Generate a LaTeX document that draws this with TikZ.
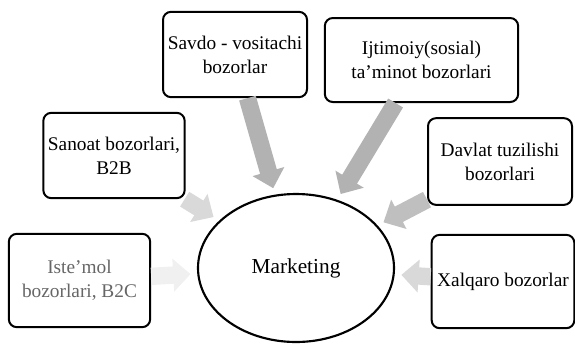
\documentclass[tikz,border=0pt]{standalone}
\usepackage{fontspec}
\setmainfont{Liberation Serif}
\usetikzlibrary{shapes.geometric,arrows.meta}

\tikzset{every picture/.style={line width=0.75pt}}
\tikzset{
  market/.style={draw, line width=1.5pt, rounded corners=6pt, align=center, inner sep=2pt,
    font=\fontsize{14.5}{18}\selectfont},
  centre/.style={draw, ellipse, line width=1.6pt, inner sep=0pt, font=\fontsize{16}{19}\selectfont},
  fatarrow/.style={line width=13pt, draw=gray!55, shorten >=5pt,
    -{Triangle[length=13pt,width=24pt]}}
}

\begin{document}
\begin{tikzpicture}[x=0.75pt,y=0.75pt,yscale=-1,xscale=1]
\useasboundingbox (0,0) rectangle (575,344);

%Shape: Ellipse
\node[centre, minimum width=147pt, minimum height=111pt] (marketing) at (296,268) {Marketing};

%Shape: Rectangle
\node[market, minimum width=108pt, minimum height=64pt] (savdo) at (235,54.5) {Savdo - vositachi\\bozorlar};
%Shape: Rectangle
\node[market, minimum width=145pt, minimum height=63pt] (ijtimoiy) at (421.5,60) {Ijtimoiy(sosial)\\ta'minot bozorlari};
%Shape: Rectangle
\node[market, minimum width=106pt, minimum height=64pt] (sanoat) at (114,155.5) {Sanoat bozorlari,\\B2B};
%Shape: Rectangle
\node[market, minimum width=108pt, minimum height=65pt] (davlat) at (500,161.5) {Davlat tuzilishi\\bozorlari};
%Shape: Rectangle
\node[market, minimum width=106pt, minimum height=70pt, text=black!60] (istemol) at (79.5,280.5) {Iste'mol\\bozorlari, B2C};
%Shape: Rectangle
\node[market, minimum width=107pt, minimum height=70pt] (xalqaro) at (503,281.5) {Xalqaro bozorlar};

%Block Arrows
\draw[fatarrow, draw=gray!60] (savdo) -- (marketing);
\draw[fatarrow, draw=gray!60] (ijtimoiy) -- (marketing);
\draw[fatarrow, draw=gray!30] (sanoat) -- (marketing);
\draw[fatarrow, draw=gray!50] (davlat) -- (marketing);
\draw[fatarrow, draw=gray!12] (istemol) -- (marketing);
\draw[fatarrow, draw=gray!30] (xalqaro) -- (marketing);

\end{tikzpicture}
\end{document}
